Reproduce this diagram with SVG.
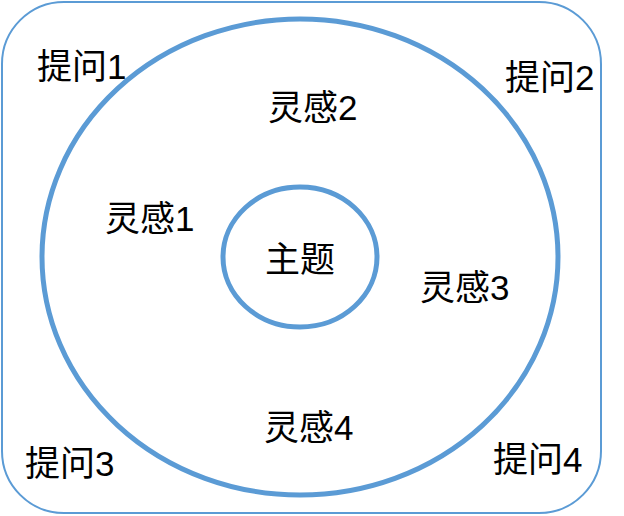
<svg xmlns="http://www.w3.org/2000/svg" width="624" height="516" viewBox="0 0 624 516">
<style>
text{font-family:"Liberation Sans","Noto Sans CJK SC",sans-serif;font-size:35px;fill:#000}
.s{fill:none;stroke:#5b9bd5}
</style>
<rect width="624" height="516" fill="#fff"/>
<g id="frame"><rect class="s" x="2" y="2" width="599" height="511" rx="62" stroke-width="2"/></g>
<g id="ring"><ellipse class="s" cx="300" cy="257" rx="258" ry="238" stroke-width="5"/></g>
<g id="topic"><ellipse class="s" cx="300" cy="257" rx="77" ry="70" stroke-width="5"/><text x="300" y="272" text-anchor="middle">主题</text></g>
<g id="q1"><text x="37" y="79">提问1</text></g>
<g id="q2"><text x="505" y="90">提问2</text></g>
<g id="q3"><text x="25" y="476">提问3</text></g>
<g id="q4"><text x="493" y="472">提问4</text></g>
<g id="i1"><text x="105" y="231">灵感1</text></g>
<g id="i2"><text x="268" y="120">灵感2</text></g>
<g id="i3"><text x="420" y="300">灵感3</text></g>
<g id="i4"><text x="264" y="440">灵感4</text></g>
<g id="connectors"></g>
</svg>
